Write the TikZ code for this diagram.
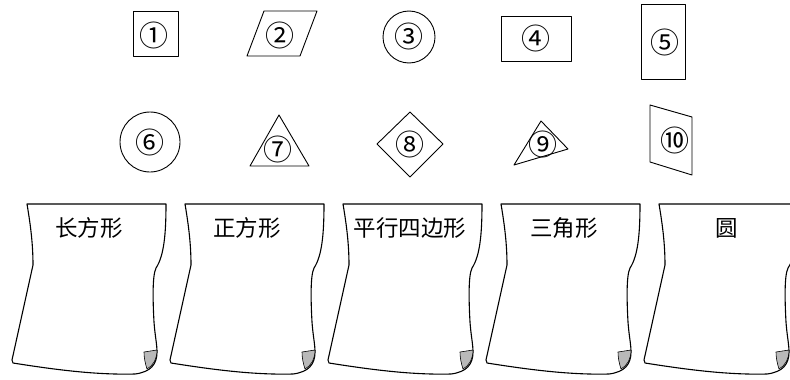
\documentclass[tikz,border=0pt]{standalone}
\usepackage{fontspec}
\newfontfamily\cjk{Noto Sans CJK SC}
\begin{document}
\begin{tikzpicture}[x=1pt,y=-1pt,line join=round,
		fig/.style={line width=0.9pt},
		num/.style={font=\cjk\fontsize{29pt}{29pt}\selectfont},
		word/.style={font=\cjk\fontsize{22.5pt}{22.5pt}\selectfont},
		sheet/.style={line width=1.1pt,fill=white},
		curl/.style={line width=0.6pt,fill=gray!55}]
		\useasboundingbox (0,0) rectangle (790,380);
		\clip (0,0) rectangle (790,380);
		\draw[fig](133,11) rectangle (178,56);
		\node[num] (n1) at (154,35){①};
		\draw[fig](264,11)--(317,11)--(300,56)--(247,56)--cycle;
		\node[num] (n2) at (280,35){②};
		\draw[fig](409,37) circle (26pt);
		\node[num] (n3) at (409,36){③};
		\draw[fig](501,16) rectangle (571,61);
		\node[num] (n4) at (536,38){④};
		\draw[fig](641,4) rectangle (685,79);
		\node[num] (n5) at (665,42){⑤};
		\draw[fig](150,142) circle (30pt);
		\node[num] (n6) at (150,142){⑥};
		\draw[fig](279,115)--(309,166)--(250,166)--cycle;
		\node[num] (n7) at (278,149){⑦};
		\draw[fig](410,112)--(443,144)--(410,177)--(377,144)--cycle;
		\node[num] (n8) at (410,144){⑧};
		\draw[fig](541,121)--(568,149)--(514,165)--cycle;
		\node[num] (n9) at (543,144){⑨};
		\draw[fig](650,105)--(692,117)--(692,175)--(650,162)--cycle;
		\node[num] (n10) at (675,140){⑩};
		\foreach \x/\lx/\txt in {27/62/长方形,185/62/正方形,343/67/平行四边形,501/63/三角形,659/68/圆}{
			\begin{scope}[shift={(\x,204)}]
				\draw[sheet](0,0)--(139,0) .. controls (139,30) and (137,52) .. (129,64)
					.. controls (125,72) and (126,100) .. (127,118)
					.. controls (128,132) and (130,140) .. (130,148)
					.. controls (130,160) and (124,168) .. (108,170)
					.. controls (70,171) and (30,166) .. (-14,159)
					--(-15,156)--(6,61) .. controls (6,38) and (3,18) .. (0,0)--cycle;
				\draw[curl](117,148)--(130,146) .. controls (130,155) and (126,162) .. (120,165)
					.. controls (118,159) and (117,153) .. (117,148)--cycle;
				\node[word] (w\x) at (\lx,24){\txt};
			\end{scope}
		}
	\end{tikzpicture}
\end{document}
